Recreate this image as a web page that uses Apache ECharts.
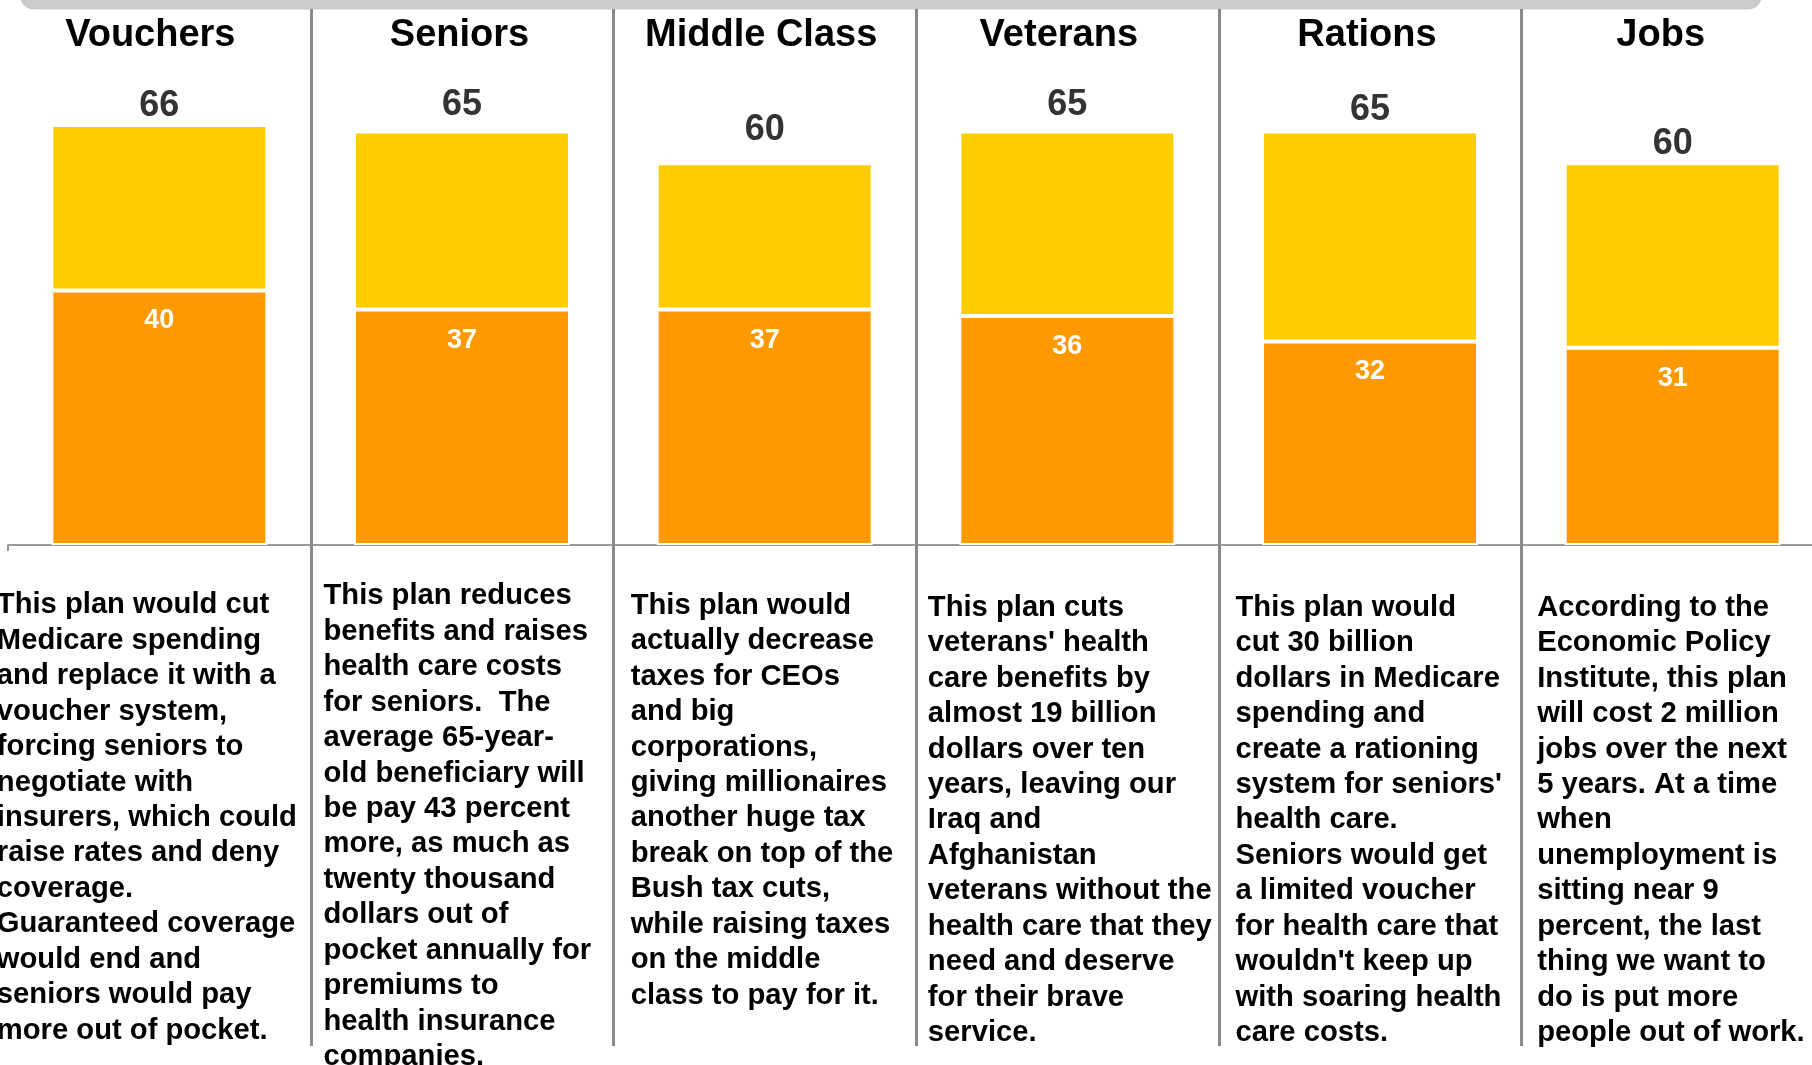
<!DOCTYPE html>
<html>
<head>
<meta charset="utf-8">
<script src="https://cdn.jsdelivr.net/npm/echarts@6/dist/echarts.min.js"></script>
<style>
html,body{margin:0;padding:0;background:#ffffff;overflow:hidden}
#chart{width:1812px;height:1065px}
</style>
</head>
<body>
<div id="chart"></div>
<script>
// ---------------- DATA ----------------
const categories = ['Vouchers', 'Seniors', 'Middle Class', 'Veterans', 'Rations', 'Jobs'];
const totalValues = [66, 65, 60, 65, 65, 60];   // label above each bar (whole bar)
const lowerValues = [40, 37, 37, 36, 32, 31];   // orange part, labelled inside

const descriptions = [
  ['This plan would cut', 'Medicare spending', 'and replace it with a', 'voucher system,', 'forcing seniors to', 'negotiate with', 'insurers, which could', 'raise rates and deny', 'coverage.', 'Guaranteed coverage', 'would end and', 'seniors would pay', 'more out of pocket.'],
  ['This plan reduces', 'benefits and raises', 'health care costs', 'for seniors.  The', 'average 65-year-', 'old beneficiary will', 'be pay 43 percent', 'more, as much as', 'twenty thousand', 'dollars out of', 'pocket annually for', 'premiums to', 'health insurance', 'companies.'],
  ['This plan would', 'actually decrease', 'taxes for CEOs', 'and big', 'corporations,', 'giving millionaires', 'another huge tax', 'break on top of the', 'Bush tax cuts,', 'while raising taxes', 'on the middle', 'class to pay for it.'],
  ['This plan cuts', "veterans' health", 'care benefits by', 'almost 19 billion', 'dollars over ten', 'years, leaving our', 'Iraq and', 'Afghanistan', 'veterans without the', 'health care that they', 'need and deserve', 'for their brave', 'service.'],
  ['This plan would', 'cut 30 billion', 'dollars in Medicare', 'spending and', 'create a rationing', "system for seniors'", 'health care.', 'Seniors would get', 'a limited voucher', 'for health care that', "wouldn't keep up", 'with soaring health', 'care costs.'],
  ['According to the', 'Economic Policy', 'Institute, this plan', 'will cost 2 million', 'jobs over the next', '5 years. At a time', 'when', 'unemployment is', 'sitting near 9', 'percent, the last', 'thing we want to', 'do is put more', 'people out of work.']
];

// upper (yellow) segment = whole bar minus the orange part
const upperValues = totalValues.map((t, i) => t - lowerValues[i]);

// ---------------- LAYOUT / STYLE ----------------
const FONT = '"Liberation Sans", Arial, Helvetica, sans-serif';
const descLeftOffset = [-162.5, -138.5, -134, -139.5, -134.5, -135.5]; // from category centre
const descTop = [587.5, 578.5, 588, 590, 590, 590];
const totalLabelGap = [10, 17, 24, 17, 12, 10];
const titleShift = [-9, -2.5, -3.5, -8.5, -3, -12];   // title centre vs bar centre

const chart = echarts.init(document.getElementById('chart'), null, {renderer: 'canvas'});

chart.setOption({
  animation: false,
  backgroundColor: '#ffffff',
  textStyle: {fontFamily: FONT},
  grid: {left: 8, top: 36, width: 1816, height: 509, outerBoundsMode: 'none', containLabel: false},
  xAxis: [
    {
      type: 'category',
      data: categories,
      position: 'bottom',
      axisLine: {show: true, lineStyle: {color: '#9a9a9a', width: 2}},
      axisTick: {show: true, length: 6, lineStyle: {color: '#9a9a9a', width: 2}},
      axisLabel: {show: false},
      splitLine: {show: false}
    },
    {
      type: 'category',
      data: categories.map((c, i) => ({
        value: c,
        textStyle: {padding: [0, Math.max(0, -2 * titleShift[i]), 0, Math.max(0, 2 * titleShift[i])]}
      })),
      position: 'top',
      axisLine: {show: false},
      axisTick: {show: false},
      splitLine: {show: false},
      axisLabel: {
        show: true,
        interval: 0,
        margin: -18.5,
        color: '#000000',
        fontFamily: FONT,
        fontWeight: 'bold',
        fontSize: 38,
        lineHeight: 38
      }
    }
  ],
  yAxis: {type: 'value', min: 0, max: 80, show: false, splitLine: {show: false}},
  series: [
    {
      name: 'lower',
      type: 'bar',
      stack: 'total',
      barWidth: 216,
      data: lowerValues,
      itemStyle: {color: '#FF9900', borderColor: '#ffffff', borderWidth: 2},
      label: {
        show: true,
        position: 'insideTop',
        distance: 17,
        color: '#ffffff',
        fontFamily: FONT,
        fontWeight: 'bold',
        fontSize: 27,
        lineHeight: 27
      }
    },
    {
      name: 'upper',
      type: 'bar',
      stack: 'total',
      barWidth: 216,
      data: upperValues.map((v, i) => ({value: v, label: {distance: totalLabelGap[i] - 9}})),
      itemStyle: {color: '#FFCC00', borderColor: '#ffffff', borderWidth: 2},
      label: {
        show: true,
        position: 'top',
        formatter: p => String(totalValues[p.dataIndex]),
        color: '#333333',
        fontFamily: FONT,
        fontWeight: 'bold',
        fontSize: 36,
        lineHeight: 36
      }
    }
  ]
});

// ---------------- GRAPHIC: header band, dividers, descriptions ----------------
const centers = categories.map((c, i) => chart.convertToPixel({xAxisIndex: 0}, i));
const band = centers.length > 1 ? centers[1] - centers[0] : 300;
const graphics = [];

graphics.push({
  type: 'rect',
  shape: {x: 20, y: -30, width: 1742, height: 39.5, r: 14},
  style: {fill: '#cbcbcb'},
  z: 10
});

for (let i = 0; i < centers.length - 1; i++) {
  const x = Math.round(centers[i] + band / 2) + 0.5;
  graphics.push({
    type: 'line',
    shape: {x1: x, y1: 9, x2: x, y2: 1046},
    style: {stroke: '#8a8a8a', lineWidth: 3},
    z: 10
  });
}

descriptions.forEach((lines, i) => {
  graphics.push({
    type: 'text',
    x: centers[i] + descLeftOffset[i],
    y: descTop[i],
    style: {
      text: lines.join('\n'),
      font: 'bold 29.2px ' + FONT,
      fill: '#000000',
      lineHeight: 35.45,
      align: 'left',
      verticalAlign: 'top'
    },
    z: 10
  });
});

chart.setOption({graphic: graphics});
</script>
</body>
</html>
